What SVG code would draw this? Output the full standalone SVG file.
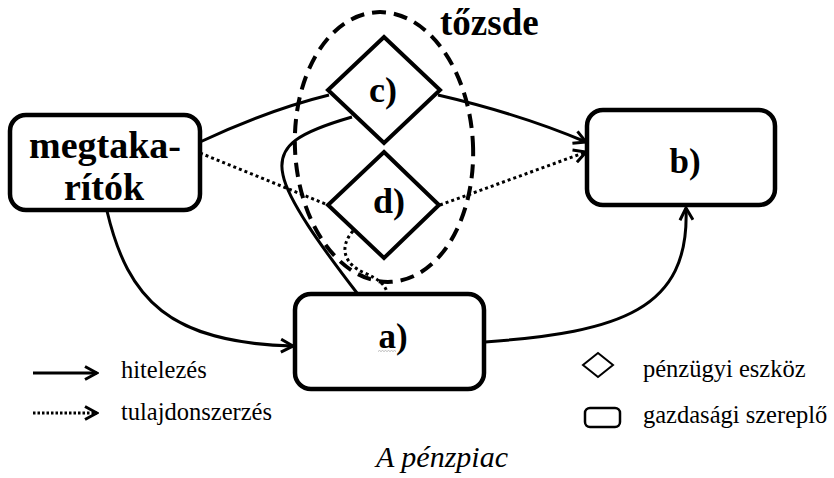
<svg xmlns="http://www.w3.org/2000/svg" width="834" height="478" viewBox="0 0 834 478">
<defs>
<marker id="arr" viewBox="0 0 16 16" refX="14" refY="8" markerWidth="16" markerHeight="16" markerUnits="userSpaceOnUse" orient="auto">
<path d="M2,1.5 L14,8 L2,14.5" fill="none" stroke="#000" stroke-width="3"/>
</marker>
<style>
.box{fill:#fff;stroke:#000;stroke-width:4.5}
.dia{fill:#fff;stroke:#000;stroke-width:4}
.solid{fill:none;stroke:#000;stroke-width:3}
.dot{fill:none;stroke:#000;stroke-width:3;stroke-dasharray:3 3}
</style>
</defs>
<rect width="834" height="478" fill="#fff"/>
<g id="connectors">
<path class="solid" d="M200,142 Q268,110 329,95"/>
<path class="solid" d="M438,95 Q520,114 586,142" marker-end="url(#arr)"/>
<path class="dot" d="M200,153 L328,205"/>
<path class="dot" d="M440,205 L586,152" marker-end="url(#arr)"/>
<path class="solid" d="M352,117 C300,132 276,145 283,175 C288,200 320,245 357,293"/>
<path class="dot" d="M353,231 C338,248 345,265 365,273 C378,279 386,285 387,293"/>
<path class="solid" d="M107,211 C128,300 170,343 293,346" marker-end="url(#arr)"/>
<path class="solid" d="M485,342 C620,332 690,310 686,208" marker-end="url(#arr)"/>
</g>
<g id="tozsde">
<ellipse cx="384" cy="147" rx="89" ry="135" transform="rotate(-3 384 147)" fill="none" stroke="#000" stroke-width="4" stroke-dasharray="14 8"/>
<text font-family="Liberation Serif, serif" font-weight="bold" font-size="37" x="440" y="35">tőzsde</text>
</g>
<g id="megtakaritok">
<rect class="box" x="10" y="115" width="190" height="95" rx="16"/>
<text font-family="Liberation Serif, serif" font-weight="bold" font-size="38" x="105" y="158" text-anchor="middle">megtaka-</text>
<text font-family="Liberation Serif, serif" font-weight="bold" font-size="38" x="104" y="200" text-anchor="middle">rítók</text>
</g>
<g id="c">
<polygon class="dia" points="384,37 440,90 384,143 328,90"/>
<text font-family="Liberation Serif, serif" font-weight="bold" font-size="36" x="383" y="102" text-anchor="middle">c)</text>
</g>
<g id="d">
<polygon class="dia" points="384,152 439,205 384,258 328,205"/>
<text font-family="Liberation Serif, serif" font-weight="bold" font-size="36" x="389" y="213" text-anchor="middle">d)</text>
</g>
<g id="b">
<rect class="box" x="587" y="110" width="188" height="95" rx="16"/>
<text font-family="Liberation Serif, serif" font-weight="bold" font-size="35" x="685" y="173" text-anchor="middle">b)</text>
</g>
<g id="a">
<rect class="box" x="295" y="294" width="189" height="95" rx="16"/>
<text font-family="Liberation Serif, serif" font-weight="bold" font-size="35" x="393" y="348" text-anchor="middle">a)</text>
<path d="M378,351.5 l1.5,-1 1.5,1 1.5,-1 1.5,1 1.5,-1 1.5,1 1.5,-1 1.5,1 1.5,-1 1.5,1 1.5,-1 1.5,1" fill="none" stroke="#aaa" stroke-width="0.8"/>
</g>
<g id="legend">
<path class="solid" d="M33,373 L97,373" marker-end="url(#arr)"/>
<text font-family="Liberation Serif, serif" font-size="24.5" x="121" y="378">hitelezés</text>
<path fill="none" stroke="#000" stroke-width="3" stroke-dasharray="2.5 2" d="M33,413 L97,413" marker-end="url(#arr)"/>
<text font-family="Liberation Serif, serif" font-size="24.5" x="121" y="420">tulajdonszerzés</text>
<polygon points="598,353 613,365 598,377 583,365" fill="#fff" stroke="#000" stroke-width="2"/>
<text font-family="Liberation Serif, serif" font-size="24.5" x="643" y="377">pénzügyi eszköz</text>
<rect x="585" y="408" width="35" height="19" rx="5" fill="#fff" stroke="#000" stroke-width="2.5"/>
<text font-family="Liberation Serif, serif" font-size="24.5" x="643" y="423">gazdasági szereplő</text>
<text font-family="Liberation Serif, serif" font-style="italic" font-size="30" x="442" y="467" text-anchor="middle">A pénzpiac</text>
</g>
</svg>
